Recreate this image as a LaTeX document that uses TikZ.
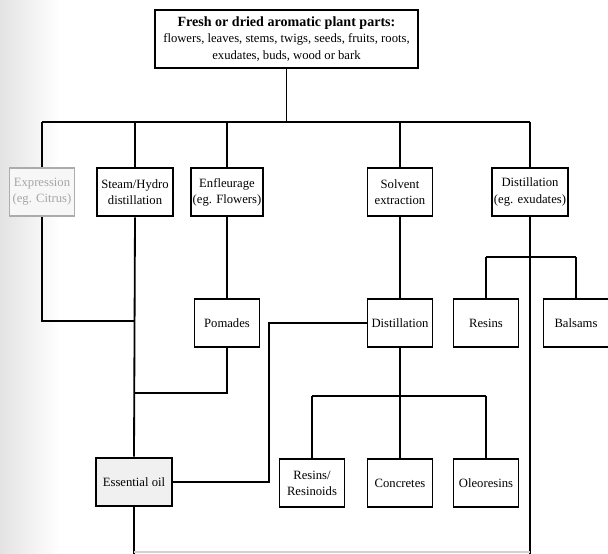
\documentclass[tikz,border=0pt]{standalone}
\usepackage{fontspec}
\setmainfont{Liberation Serif}
\usetikzlibrary{positioning, calc}

\begin{document}
\begin{tikzpicture}[
  x=0.025cm, y=-0.025cm,
  every node/.style={font=\fontsize{9}{11.5}\selectfont},
  %% box styles
  pbox/.style={draw, line width=1.3pt, align=center, fill=white,
    minimum width=1.625cm, minimum height=1.22cm, inner sep=1pt},
  wbox/.style={pbox, minimum width=1.9cm},
  fbox/.style={pbox, draw=gray!65, text=gray!70, fill=gray!6},
  ln/.style={line width=1.3pt},
]
\useasboundingbox (0,0) rectangle (608,554);
\fill[left color=gray!22, right color=white] (0,0) rectangle (60,554);

%% =========================================================
%% ROW 0 — plant material
%% =========================================================
\node[pbox, minimum width=6.575cm, minimum height=1.45cm] (plant) at (286.5,39)
  {{\fontsize{10}{12}\selectfont\bfseries Fresh or dried aromatic plant parts:}\\
   flowers, leaves, stems, twigs, seeds, fruits, roots,\\
   exudates, buds, wood or bark};

%% ROW 1 — methods
\node[fbox] (expr)  at (42,192)  {Expression\\(eg. Citrus)};
\node[wbox] (steam) at (135,192) {Steam/Hydro\\distillation};
\node[pbox] (enfl)  at (227,192) {Enfleurage\\(eg. Flowers)};
\node[pbox] (solv)  at (400,192) {Solvent\\extraction};
\node[wbox] (dist1) at (530,192) {Distillation\\(eg. exudates)};

\coordinate (busY) at (0,122);
\draw[ln] (plant.south) -- (plant.south |- busY);
\draw[ln] (expr.north |- busY) -- (dist1.north |- busY);
\draw[ln] (expr.north |- busY) -- (expr.north);
\draw[ln] (steam.north |- busY) -- (steam.north);
\draw[ln] (enfl.north |- busY) -- (enfl.north);
\draw[ln] (solv.north |- busY) -- (solv.north);
\draw[ln] (dist1.north |- busY) -- (dist1.north);

%% ROW 2 — intermediate products
\node[pbox] (pom)     at (227,323) {Pomades};
\node[pbox] (dist2)   at (400,323) {Distillation};
\node[pbox] (resins)  at (486,323) {Resins};
\node[pbox] (balsams) at (576,323) {Balsams};

\draw[ln] (enfl.south) -- (pom.north);
\draw[ln] (solv.south) -- (dist2.north);

\coordinate (forkD) at (0,257);
\draw[ln] (resins.north |- forkD) -- (balsams.north |- forkD);
\draw[ln] (resins.north |- forkD) -- (resins.north);
\draw[ln] (balsams.north |- forkD) -- (balsams.north);

%% ROW 3 — end products
\node[wbox, fill=gray!12] (oil) at (134,482) {Essential oil};
\node[pbox] (resinoid) at (312,483) {Resins/\\Resinoids};
\node[pbox] (concr)    at (400,483) {Concretes};
\node[pbox] (oleo)     at (486,483) {Oleoresins};

\draw[ln] (steam.south) -- (oil.north);
\coordinate (jExpr) at (0,321);
\draw[ln] (expr.south) -- (expr.south |- jExpr) -- (steam.south |- jExpr);
\coordinate (jPom) at (0,393);
\draw[ln] (pom.south) -- (pom.south |- jPom) -- (steam.south |- jPom);
\coordinate (jDist) at (269,0);
\draw[ln] (dist2.west) -- (jDist |- dist2.west) -- (jDist |- oil.east) -- (oil.east);

\coordinate (forkR) at (0,396);
\draw[ln] (dist2.south) -- (dist2.south |- forkR);
\draw[ln] (resinoid.north |- forkR) -- (oleo.north |- forkR);
\draw[ln] (resinoid.north |- forkR) -- (resinoid.north);
\draw[ln] (concr.north |- forkR) -- (concr.north);
\draw[ln] (oleo.north |- forkR) -- (oleo.north);

%% bottom run-out
\coordinate (bot) at (0,554);
\draw[ln] (dist1.south) -- (dist1.south |- bot);
\draw[ln] (oil.south) -- (oil.south |- bot);
\draw[gray!35, line width=0.8pt] (oil.south |- 0,552) -- (dist1.south |- 0,552);

\end{tikzpicture}
\end{document}
